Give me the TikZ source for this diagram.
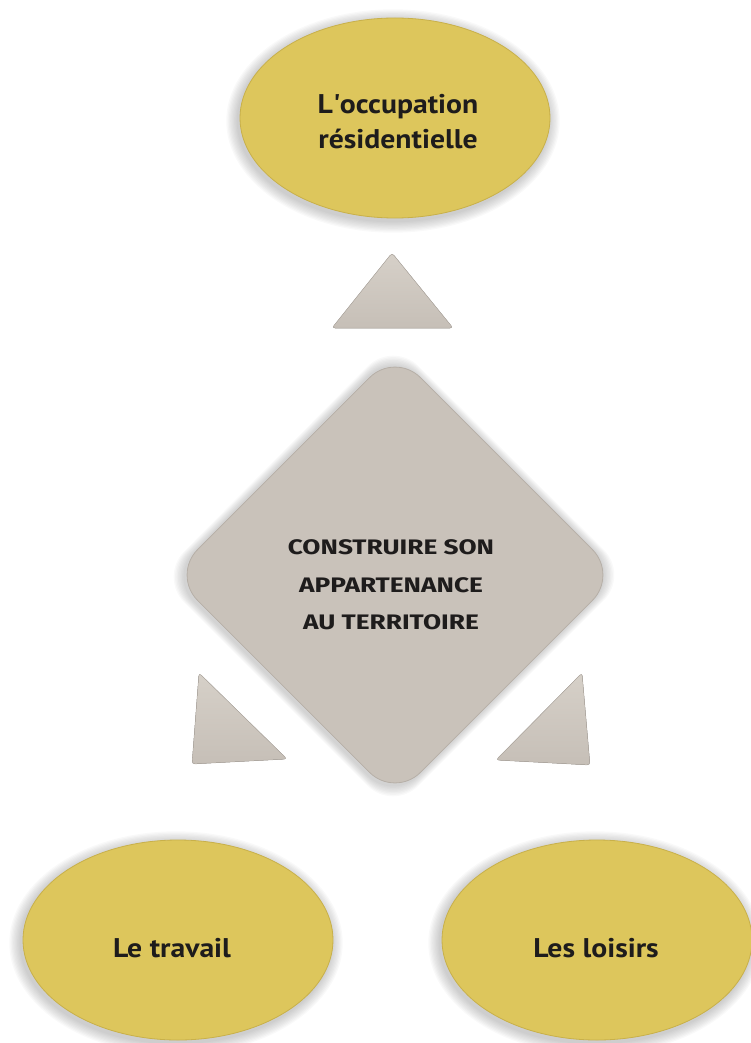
\documentclass[tikz,border=0pt]{standalone}
\usepackage{fontspec}
\setmainfont{PT Sans}
\newfontfamily\ovalfont{PT Sans}[Ligatures=TeXOff, FakeStretch=1.1]
\newfontfamily\diafont{Fira Sans}[FakeStretch=1.25]
\usetikzlibrary{shapes.geometric}
\definecolor{ellyellow}{RGB}{221,198,92}
\definecolor{ellrim}{RGB}{200,176,74}
\definecolor{diagray}{RGB}{201,194,186}
\definecolor{diarim}{RGB}{182,175,167}
\definecolor{trilight}{RGB}{214,208,200}
\definecolor{tridark}{RGB}{198,191,183}
\definecolor{ink}{RGB}{30,28,28}
\tikzset{
  ovalbox/.style={ellipse, fill=ellyellow, draw=ellrim, line width=0.8pt,
    minimum width=310pt, minimum height=200pt, inner sep=0pt},
  ovaltext/.style={align=center, inner sep=0pt,
    font=\ovalfont\fontsize{27}{35}\selectfont\bfseries, text=ink},
  diabox/.style={diamond, fill=diagray, draw=diarim, line width=0.8pt,
    minimum width=446pt, minimum height=446pt, inner sep=0pt,
    rounded corners=36pt},
  diatext/.style={align=center, font=\diafont\fontsize{21}{37.5}\selectfont\bfseries, text=ink},
  tri/.style={top color=trilight, bottom color=tridark, draw=diarim, line width=0.5pt, rounded corners=3pt},
  softshade/.style={black, opacity=0.025}
}
\newcommand{\ovalshadow}[2]{%
  \foreach \k in {1,...,9}{\fill[softshade] ({#1-2},{#2+3}) ellipse [x radius={155+\k*1.3}, y radius={100+\k*1.3}];}}
\begin{document}
\begin{tikzpicture}[x=1pt,y=-1pt]
\useasboundingbox (0,0) rectangle (751,1043);
% shadows
\ovalshadow{395}{118}
\ovalshadow{178}{940}
\ovalshadow{597}{940}
\foreach \k in {1,...,8}{
  \fill[softshade, rounded corners=36pt] (393,{575-223-\k*1.4}) -- ({395+223+\k*1.4},575) -- (393,{577+223+\k*1.4}) -- ({395-225-\k*1.4},577) -- cycle;}
% ellipses
\node[ovalbox] (occ) at (395,118) {};
\node[ovaltext] (occlbl) at (398,122) {L\textquotesingle occupation\\résidentielle};
\node[ovalbox] (trav) at (178,940) {};
\node[ovaltext] (travlbl) at (172,948) {Le travail};
\node[ovalbox] (lois) at (597,940) {};
\node[ovaltext] (loislbl) at (596,948) {Les loisirs};
% diamond
\node[diabox] (centre) at (395,575) {};
\node[diatext] (titre) at (391,585) {CONSTRUIRE SON\\APPARTENANCE\\AU TERRITOIRE};
% triangles
\coordinate (tA) at (392,253);
\coordinate (tB) at (453,328);
\coordinate (tC) at (332,328);
\filldraw[tri] (tA) -- (tB) -- (tC) -- cycle;
\coordinate (lA) at (199,673);
\coordinate (lB) at (287,759);
\coordinate (lC) at (192,764);
\filldraw[tri] (lA) -- (lB) -- (lC) -- cycle;
\coordinate (rA) at (582,673);
\coordinate (rB) at (590,765);
\coordinate (rC) at (496,760);
\filldraw[tri] (rA) -- (rB) -- (rC) -- cycle;
\end{tikzpicture}
\end{document}
